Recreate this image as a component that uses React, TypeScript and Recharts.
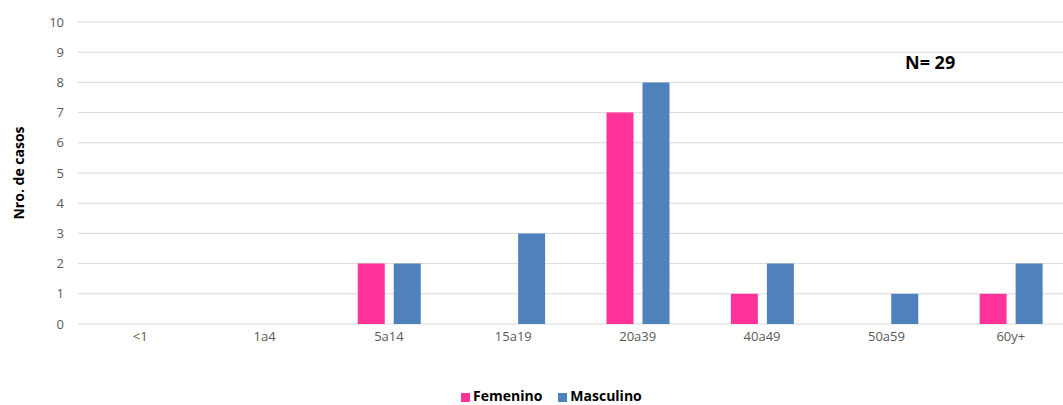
import { BarChart, Bar, XAxis, YAxis, CartesianGrid } from 'recharts';

const grupos = ['<1', '1a4', '5a14', '15a19', '20a39', '40a49', '50a59', '60y+'];
const femenino = [0, 0, 2, 0, 7, 1, 0, 1];
const masculino = [0, 0, 2, 3, 8, 2, 1, 2];
const yTicks = [0, 1, 2, 3, 4, 5, 6, 7, 8, 9, 10];

const PINK = '#FF3399';
const BLUE = '#4F81BD';
const FONT = '"Open Sans", "Noto Sans", sans-serif';

const data = grupos.map((g, i) => ({
  grupo: g,
  Femenino: femenino[i] || null,
  Masculino: masculino[i] || null
}));

function LegendBox() {
  const items = [
    { name: 'Femenino', color: PINK },
    { name: 'Masculino', color: BLUE }
  ];
  return (
    <div
      style={{
        position: 'absolute',
        left: 461,
        top: 387,
        display: 'flex',
        alignItems: 'center',
        fontFamily: FONT,
        fontWeight: 700,
        fontSize: 14,
        color: '#000',
        lineHeight: '18px',
        whiteSpace: 'nowrap'
      }}
    >
      {items.map((it) => (
        <span key={it.name} style={{ display: 'flex', alignItems: 'center', marginRight: 16 }}>
          <span style={{ width: 9, height: 9, background: it.color, display: 'inline-block', marginRight: 3, marginTop: 2 }} />
          {it.name}
        </span>
      ))}
    </div>
  );
}

export default function App() {
  return (
    <div style={{ position: 'fixed', left: 0, top: 0, width: 1063, height: 405, overflow: 'hidden', background: '#fff' }}>
      <BarChart
        width={1080}
        height={405}
        data={data}
        margin={{ top: 22, right: 7, bottom: 51, left: 0 }}
        barGap={9}
        barCategoryGap={31}
      >
        <CartesianGrid vertical={false} stroke="#d9d9d9" strokeWidth={1} />
        <XAxis
          dataKey="grupo"
          axisLine={false}
          tickLine={false}
          height={30}
          tick={{ fontSize: 13, fill: '#595959', fontFamily: FONT }}
        />
        <YAxis
          domain={[0, 10]}
          ticks={yTicks}
          interval={0}
          width={78}
          axisLine={false}
          tickLine={false}
          tickMargin={8}
          tick={{ fontSize: 13, fill: '#595959', fontFamily: FONT }}
          label={{
            value: 'Nro. de casos',
            angle: -90,
            position: 'insideLeft',
            offset: 19,
            fontSize: 14,
            fontWeight: 700,
            fill: '#000',
            fontFamily: FONT,
            textAnchor: 'middle'
          }}
        />
        <Bar dataKey="Femenino" fill={PINK} isAnimationActive={false} />
        <Bar dataKey="Masculino" fill={BLUE} isAnimationActive={false} />
      </BarChart>
      <LegendBox />
      <div
        style={{
          position: 'absolute',
          left: 905,
          top: 50,
          fontFamily: FONT,
          fontWeight: 700,
          fontSize: 18,
          color: '#000',
          lineHeight: '24px'
        }}
      >
        N= 29
      </div>
    </div>
  );
}
